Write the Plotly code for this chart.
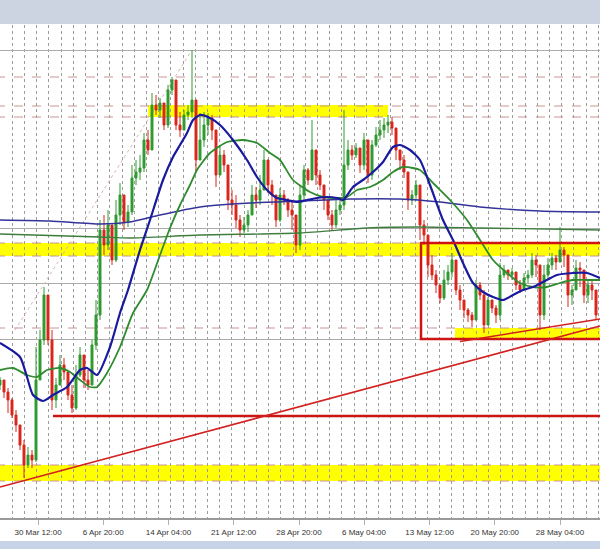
import plotly.graph_objects as go

# ---------------- data (8-hour candles, price in points) ----------------
open_first = 215
close_pts = [220, 208, 200, 185, 175, 155, 135, 145, 140, 220,
             260, 305, 260, 200, 215, 235, 228, 205, 192, 225,
             245, 220, 215, 255, 285, 370, 355, 375, 340, 385,
             405, 378, 388, 422, 428, 432, 460, 450, 495, 490,
             497, 475, 510, 520, 475, 470, 485, 488, 500, 440,
             460, 475, 482, 470, 425, 445, 435, 400, 395, 380,
             370, 375, 385, 405, 400, 410, 440, 415, 405, 380,
             405, 400, 390, 385, 355, 405, 430, 420, 450, 425,
             415, 400, 385, 375, 390, 395, 435, 450, 445, 452,
             435, 460, 425, 455, 465, 470, 475, 478, 472, 450,
             440, 428, 400, 405, 415, 375, 365, 335, 325, 315,
             302, 320, 328, 340, 310, 300, 290, 285, 280, 315,
             305, 275, 300, 292, 285, 325, 330, 325, 328, 315,
             310, 322, 325, 340, 335, 285, 325, 335, 342, 338,
             350, 345, 305, 310, 332, 330, 305, 315, 310, 285]
high_pts = [223, 217, 212, 202, 190, 172, 160, 153, 150, 253,
            270, 313, 300, 270, 222, 245, 242, 222, 215, 235,
            253, 232, 230, 260, 300, 380, 385, 390, 360, 400,
            417, 395, 395, 435, 440, 445, 467, 470, 507, 505,
            502, 495, 515, 523, 505, 488, 490, 495, 550, 495,
            487, 488, 487, 485, 467, 455, 450, 415, 410, 405,
            385, 383, 390, 415, 413, 425, 450, 425, 420, 405,
            412, 410, 402, 400, 375, 415, 435, 432, 480, 440,
            430, 410, 400, 390, 400, 403, 490, 460, 455, 457,
            450, 467, 460, 460, 473, 480, 482, 485, 483, 467,
            450, 445, 410, 410, 420, 415, 380, 355, 345, 330,
            315, 330, 335, 347, 335, 315, 295, 292, 288, 320,
            318, 310, 303, 300, 295, 337, 335, 330, 332, 323,
            320, 327, 330, 347, 345, 313, 335, 342, 347, 345,
            373, 353, 313, 315, 340, 338, 313, 320, 320, 295]
low_pts = [210, 202, 187, 182, 168, 150, 122, 132, 132, 138,
           237, 255, 255, 190, 192, 215, 220, 200, 187, 190,
           223, 212, 210, 215, 250, 280, 345, 350, 335, 338,
           375, 370, 373, 385, 415, 420, 428, 445, 450, 485,
           482, 470, 472, 505, 470, 463, 475, 480, 482, 430,
           440, 453, 465, 460, 413, 425, 428, 390, 385, 372,
           363, 367, 368, 385, 392, 395, 415, 407, 395, 373,
           378, 395, 383, 370, 347, 350, 400, 415, 420, 415,
           410, 390, 380, 370, 372, 385, 390, 430, 440, 442,
           427, 430, 417, 420, 453, 460, 462, 467, 465, 440,
           430, 422, 390, 395, 400, 360, 355, 323, 320, 307,
           297, 300, 315, 323, 305, 290, 282, 278, 273, 280,
           300, 267, 275, 287, 277, 280, 322, 320, 320, 310,
           307, 310, 317, 322, 323, 270, 280, 320, 330, 330,
           340, 333, 293, 295, 310, 313, 297, 297, 300, 280]

# moving averages (candle index, level)
ma_fast_x = [0, 5, 6.75, 8.25, 10.75, 13.25, 16.75, 20, 21.75, 24.25, 27.5, 30, 32, 35, 37.5,
             40.75, 43.25, 45, 46.75, 48.25, 50, 52.5, 55, 58.25, 61.75, 64.25, 66.75, 69.25,
             71.75, 74.25, 76.75, 79.25, 81.75, 84.25, 85.75, 88.25, 90.75, 93.25, 95.75, 98.25,
             100, 102.5, 105, 107.5, 110.75, 113.25, 115.75, 118.25, 120.75, 123.25, 125.75,
             128.25, 130.75, 133.25, 135.75, 139.25, 143.25, 146.75, 150]
ma_fast_y = [257, 243, 223, 205, 199, 205, 213, 230, 232, 225, 253, 287, 310, 350, 380,
             420, 443, 455, 467, 480, 485, 482, 475, 460, 440, 423, 410, 402,
             400, 398, 400, 402, 403, 402, 400, 413, 420, 428, 438, 453,
             455, 450, 440, 415, 380, 360, 337, 317, 308, 303, 300,
             305, 310, 313, 318, 325, 327, 327, 322]
ma_mid_x = [0, 3.25, 6.75, 9.25, 11.75, 15, 17.5, 20, 22.5, 24.25, 26.75, 30, 33.25, 36.75,
            40, 42.5, 45, 47.5, 49.25, 52.5, 56.75, 60.75, 64.25, 67.5, 70, 73.25, 77.5, 80.75,
            84.25, 86.75, 89.25, 92.5, 95.75, 98.25, 100.75, 103.25, 105, 108.75, 112.5, 116.75,
            120, 123.25, 126.75, 130, 133.25, 136.75, 140, 143.25, 146.75, 150]
ma_mid_y = [230, 232, 225, 223, 230, 232, 228, 220, 213, 213, 227, 253, 287, 310,
            345, 372, 395, 415, 430, 447, 458, 460, 457, 447, 440, 420, 408, 403,
            402, 403, 410, 413, 420, 428, 433, 432, 430, 415, 400, 380,
            360, 340, 327, 317, 313, 313, 317, 320, 320, 320]
ma_slow_blue_x = [0, 12.5, 25, 32.5, 40, 50, 62.5, 75, 87.5, 100, 110, 120, 135, 150]
ma_slow_blue_y = [380, 379, 376, 378, 385, 393, 397, 399, 401, 401, 398, 393, 389, 388]
ma_slow_green_x = [0, 25, 32.5, 50, 75, 91.75, 105, 120, 150]
ma_slow_green_y = [366, 363, 362, 365, 367, 372, 373, 372, 370]

# axis labels
tick_pos = [9.5, 25.8, 42.1, 58.4, 74.75, 91.0, 107.4, 123.7, 140.0]
tick_text = ["30 Mar 12:00", "6 Apr 20:00", "14 Apr 04:00", "21 Apr 12:00", "28 Apr 20:00",
             "6 May 04:00", "13 May 12:00", "20 May 20:00", "28 May 04:00"]
grid_levels = [261, 317, 372, 550]

# drawn levels / zones
dashed_levels = [523, 494, 483, 357, 344, 272, 135, 119]
yellow_zones = [(37, 97, 483, 495), (-1, 151, 344, 357), (113.75, 151, 262, 272), (-1, 151, 119, 135)]
red_box = (105.25, 151, 261, 357)
red_level = (13.25, 184)
trend_lines = [((0, 113), (150, 274)), ((115, 258.5), (150, 281))]
dotted_trend = ((3.75, 270), (48, 550))

# ---------------- figure ----------------
idx = list(range(len(close_pts)))
open_pts = [open_first] + close_pts[:-1]
hi = [max(h, o, c) for h, o, c in zip(high_pts, open_pts, close_pts)]
lo = [min(l, o, c) for l, o, c in zip(low_pts, open_pts, close_pts)]

GREEN = "#2f9a2f"
RED = "#d8261c"

fig = go.Figure()
fig.add_trace(go.Candlestick(
    x=idx, open=open_pts, high=hi, low=lo, close=close_pts,
    increasing=dict(line=dict(color=GREEN, width=1), fillcolor=GREEN),
    decreasing=dict(line=dict(color=RED, width=1), fillcolor=RED),
    whiskerwidth=0, showlegend=False, hoverinfo="skip"))

for xs, ys, col, w in [(ma_slow_green_x, ma_slow_green_y, "#3f7d3f", 1.3),
                       (ma_slow_blue_x, ma_slow_blue_y, "#33339a", 1.4),
                       (ma_mid_x, ma_mid_y, "#2e8b2e", 1.8),
                       (ma_fast_x, ma_fast_y, "#1a1a9e", 2.2)]:
    fig.add_trace(go.Scatter(x=xs, y=ys, mode="lines",
                             line=dict(color=col, width=w, shape="spline", smoothing=0.6),
                             showlegend=False, hoverinfo="skip"))

shapes = []
for x0, x1, y0, y1 in yellow_zones:
    shapes.append(dict(type="rect", xref="x", yref="y", x0=x0, x1=x1, y0=y0, y1=y1,
                       fillcolor="#ffff00", line=dict(width=0), layer="below"))
for lv in dashed_levels:
    shapes.append(dict(type="line", xref="x", yref="y", x0=-1, x1=151, y0=lv, y1=lv,
                       line=dict(color="#c99590", width=1, dash="dash"), layer="between"))
shapes.append(dict(type="line", xref="x", yref="y", x0=dotted_trend[0][0], y0=dotted_trend[0][1],
                   x1=dotted_trend[1][0], y1=dotted_trend[1][1],
                   line=dict(color="#d8b4b4", width=1, dash="dot"), layer="between"))
shapes.append(dict(type="rect", xref="x", yref="y", x0=red_box[0], x1=red_box[1],
                   y0=red_box[2], y1=red_box[3], line=dict(color="#cc1414", width=2.5),
                   fillcolor="rgba(0,0,0,0)", layer="above"))
shapes.append(dict(type="line", xref="x", yref="y", x0=red_level[0], x1=151,
                   y0=red_level[1], y1=red_level[1], line=dict(color="#cc1414", width=2.5),
                   layer="above"))
for (ax, ay), (bx, by) in trend_lines:
    shapes.append(dict(type="line", xref="x", yref="y", x0=ax, y0=ay, x1=bx, y1=by,
                       line=dict(color="#d42020", width=1.6), layer="above"))
# window chrome: top toolbar and bottom strip
shapes.append(dict(type="rect", xref="paper", yref="paper", x0=0, x1=1, y0=1.002, y1=1.06,
                   fillcolor="#cbd4e0", line=dict(width=0), layer="above"))
shapes.append(dict(type="rect", xref="paper", yref="paper", x0=0, x1=1, y0=-0.07, y1=-0.0467,
                   fillcolor="#c7d4e7", line=dict(width=0), layer="above"))

fig.update_layout(
    width=600, height=549,
    margin=dict(l=0, r=0, t=25, b=31),
    paper_bgcolor="white", plot_bgcolor="white",
    shapes=shapes,
    showlegend=False,
    xaxis=dict(range=[0, 150], tickmode="array", tickvals=tick_pos, ticktext=tick_text,
               showgrid=False, zeroline=False, ticks="outside", ticklen=5, tickcolor="#b0b0b0",
               tickfont=dict(family="Liberation Sans", size=8, color="#333333"),
               showline=True, linecolor="#9a9a9a", linewidth=2,
               minor=dict(tick0=0, dtick=3.0525, showgrid=True, gridcolor="#9c9c9c",
                          griddash="dot", gridwidth=1),
               rangeslider=dict(visible=False), fixedrange=True),
    yaxis=dict(range=[82, 575], tickmode="array", tickvals=grid_levels, showticklabels=False,
               showgrid=True, gridcolor="#ababab", gridwidth=1, zeroline=False,
               showline=False, fixedrange=True),
)

fig.write_html("out.html", config={"displayModeBar": False},
               post_script="document.body.style.margin='0';document.body.style.overflow='hidden';")
